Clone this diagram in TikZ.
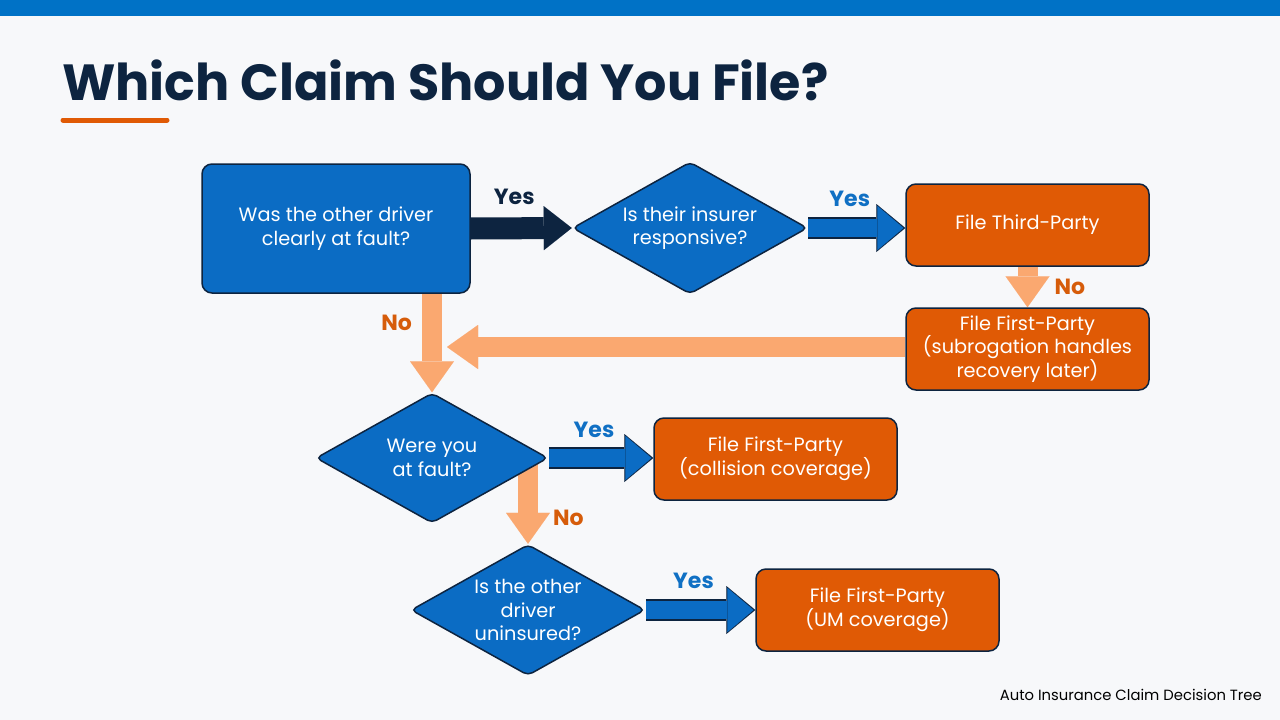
\documentclass[tikz,border=0pt]{standalone}
\usepackage{fontspec}
\setmainfont{Poppins}
\usetikzlibrary{shapes.geometric,arrows.meta}

\definecolor{navy}{RGB}{13,36,64}
\definecolor{qblue}{RGB}{11,108,196}
\definecolor{barblue}{RGB}{0,114,198}
\definecolor{aorange}{RGB}{224,90,5}
\definecolor{lorange}{RGB}{250,168,112}
\definecolor{noorange}{RGB}{214,92,10}
\definecolor{yesblue}{RGB}{16,112,196}
\definecolor{pagebg}{RGB}{247,248,250}

\pgfdeclarelayer{paper}
\pgfdeclarelayer{links}
\pgfsetlayers{paper,links,main}

\tikzset{
  question/.style={rectangle, rounded corners=10pt, draw=navy, line width=1.5pt, fill=qblue,
    text=white, align=center, font=\fontsize{19.3}{24}\selectfont,
    minimum width=268pt, minimum height=129pt},
  decision/.style={diamond, aspect=1.78, rounded corners=5pt, draw=navy, line width=1.5pt, fill=qblue,
    text=white, align=center, font=\fontsize{19.3}{23.5}\selectfont, inner sep=0pt},
  answer/.style={rectangle, rounded corners=10pt, draw=navy, line width=1.5pt, fill=aorange,
    text=white, align=center, font=\fontsize{19.3}{23.5}\selectfont,
    minimum width=243pt, minimum height=82pt},
  darklink/.style={draw=navy, line width=22pt, -{Triangle[width=44pt,length=28pt,line width=0.01pt]}},
  yesback/.style={draw=navy, line width=21.5pt, -{Triangle[width=48pt,length=29pt,line width=0.01pt]}},
  yeslink/.style={draw=qblue, line width=18.5pt, shorten >=1.8pt, -{Triangle[width=44pt,length=26pt,line width=0.01pt]}},
  nolink/.style={draw=lorange, line width=20pt, -{Triangle[width=44pt,length=31pt,line width=0.01pt]}},
  yeslabel/.style={inner sep=0pt, xshift=-7pt, text=yesblue, font=\fontsize{22}{26}\bfseries},
  nolabel/.style={inner sep=0pt, text=noorange, font=\fontsize{22}{26}\bfseries}
}

\begin{document}
\begin{tikzpicture}[x=1pt, y=-1pt]
  \begin{pgfonlayer}{paper}
    \fill[pagebg] (0,0) rectangle (1280,720);
    \fill[barblue] (0,0) rectangle (1280,16);
  \end{pgfonlayer}
  \useasboundingbox (0,0) rectangle (1280,720);

  % title
  \node[anchor=base west, inner sep=0pt, text=navy, font=\fontsize{50.8}{60}\bfseries] (title) at (62,100) {Which Claim Should You File?};
  \draw[line width=5pt, line cap=round, draw=aorange] (63,120) -- (167,120);

  \node[question] (fault) at (336,228.5) {Was the other driver\\clearly at fault?};
  \node[decision, minimum width=235pt, minimum height=132pt] (resp) at (690,228) {Is their insurer\\responsive?};
  \node[answer] (third) at (1027.5,225) {File Third-Party};
  \node[answer] (subro) at (1027.5,349) {File First-Party\\(subrogation handles\\recovery later)};
  \node[decision, minimum width=232pt, minimum height=130pt] (you) at (432,458) {Were you\\at fault?};
  \node[answer] (coll) at (775.5,459) {File First-Party\\(collision coverage)};
  \node[decision, minimum width=234pt, minimum height=131pt] (unins) at (528,610) {Is the other\\driver\\uninsured?};
  \node[answer] (um) at (877.5,610) {File First-Party\\(UM coverage)};
  \coordinate (merge) at (447,347);

  \node[anchor=base east, inner sep=0pt, font=\fontsize{14.8}{17}\selectfont] (footer) at (1262,700) {Auto Insurance Claim Decision Tree};

  \begin{pgfonlayer}{links}
    \draw[darklink] (fault.east) -- node[midway, above=13pt, yeslabel, text=navy] {Yes} (resp.west);

    \draw[yesback] (resp.east) -- (resp.east -| third.west);
    \draw[yeslink] (resp.east) -- node[midway, above=12pt, yeslabel] {Yes} (resp.east -| third.west);
    \draw[yesback] (you.east) -- (you.east -| coll.west);
    \draw[yeslink] (you.east) -- node[midway, above=11pt, yeslabel] {Yes} (you.east -| coll.west);
    \draw[yesback] (unins.east) -- (unins.east -| um.west);
    \draw[yeslink] (unins.east) -- node[midway, above=12pt, yeslabel] {Yes} (unins.east -| um.west);

    \draw[nolink] (third.south) -- node[midway, right=17pt, nolabel] {No} (subro.north);
    \draw[nolink] (subro.west |- merge) -- (merge);
    \draw[nolink] (fault.south -| you.north) -- node[pos=0.3, left=10pt, nolabel] {No} (you.north);
    \draw[nolink] (you.center -| unins.north) -- node[pos=0.7, right=15pt, nolabel] {No} (unins.north);
  \end{pgfonlayer}
\end{tikzpicture}
\end{document}
